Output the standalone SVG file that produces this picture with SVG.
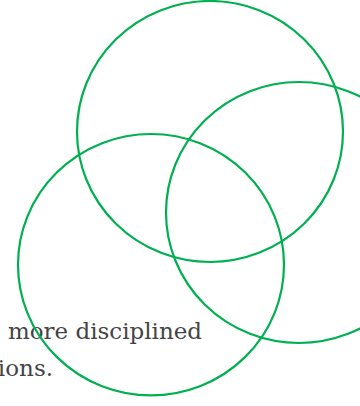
<svg xmlns="http://www.w3.org/2000/svg" width="360" height="406" viewBox="0 0 360 406">
<style>
.t{font-family:"DejaVu Serif","Liberation Serif",serif;font-size:23px;fill:#444444}
.c{fill:none;stroke:#00B050;stroke-width:2.2}
</style>
<rect width="360" height="406" fill="#ffffff"/>
<g id="text">
<text class="t" x="202" y="339" text-anchor="end" textLength="194" lengthAdjust="spacingAndGlyphs">more disciplined</text>
<text class="t" x="53" y="376" text-anchor="end">ions.</text>
</g>
<g id="circle-top"><ellipse class="c" cx="210" cy="131.5" rx="133" ry="130.5"/></g>
<g id="circle-right"><ellipse class="c" cx="299" cy="212.5" rx="133" ry="130.5"/></g>
<g id="circle-left"><ellipse class="c" cx="151" cy="264.7" rx="133" ry="130.7"/></g>
</svg>
